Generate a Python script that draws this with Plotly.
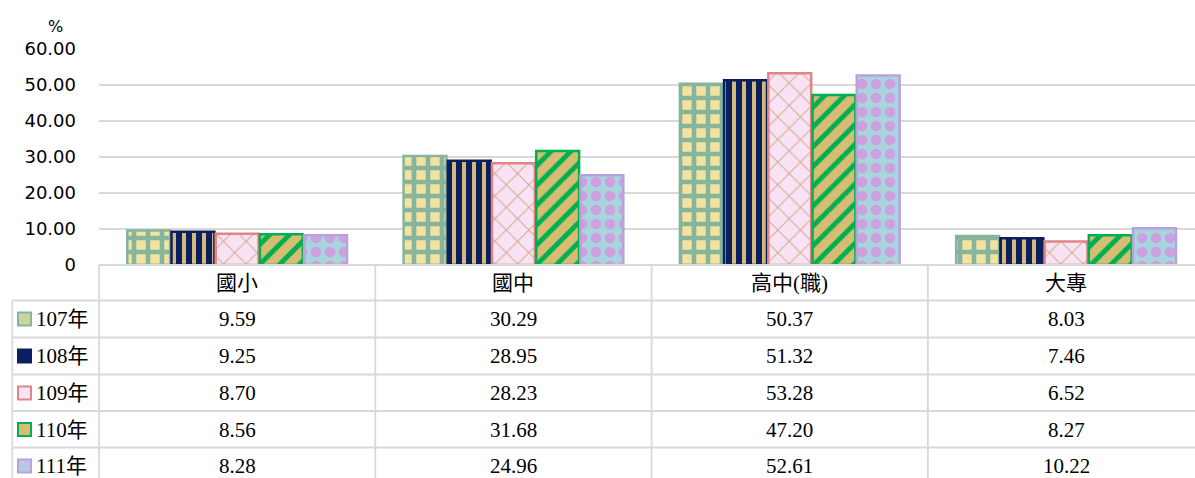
import plotly.graph_objects as go

categories = ["國小", "國中", "高中(職)", "大專"]
years = ["107年", "108年", "109年", "110年", "111年"]
v107 = [9.59, 30.29, 50.37, 8.03]
v108 = [9.25, 28.95, 51.32, 7.46]
v109 = [8.70, 28.23, 53.28, 6.52]
v110 = [8.56, 31.68, 47.20, 8.27]
v111 = [8.28, 24.96, 52.61, 10.22]
series = [v107, v108, v109, v110, v111]
y_tickvals = [0, 10, 20, 30, 40, 50, 60]
y_ticktext = ["0", "10.00", "20.00", "30.00", "40.00", "50.00", "60.00"]

# styles: (bg, fg, border, shape, solidity, size, icon fill)
styles = [
    ("#F3E3A0", "#86B49C", "#86B49C", "+", 0.55, 14, "#C9D49E"),
    ("#0B1F5E", "#D4B97A", "#0B1F5E", "|", 0.4, 10, "#0B1F5E"),
    ("#F8E3F4", "#D8A88E", "#E08585", "x", 0.12, 16, "#F8E3F4"),
    ("#D7BD74", "#00B050", "#00B050", "/", 0.35, 14, "#D7BD74"),
    ("#A8D4DC", "#CDA0E2", "#B9A2DA", ".", 0.45, 14, "#B8C8E6"),
]

W, H = 1195, 478
L, T, BP = 99, 49, 265
PW = W - L
PH = BP - T
catw = 276.3


def px_x(p):
    return (p - L) / PW


def px_y(p):
    return (BP - p) / PH


fig = go.Figure()
for name, vals, st in zip(years, series, styles):
    bg, fg, border, shp, sol, sz, icon = st
    fig.add_trace(go.Bar(
        x=categories, y=vals, name=name,
        marker=dict(
            color=bg,
            line=dict(color=border, width=2.5),
            pattern=dict(shape=shp, fillmode="replace", bgcolor=bg, fgcolor=fg,
                         solidity=sol, size=sz),
        ),
        showlegend=False,
        hoverinfo="skip",
    ))

grid = "#D9D9D9"
shapes = []
shapes.append(dict(type="line", xref="paper", yref="paper", x0=0, x1=1,
                   y0=px_y(265), y1=px_y(265), line=dict(color=grid, width=1.8)))
row_lines = [300.5, 337.5, 374.5, 411, 447.5]
for yy in row_lines:
    shapes.append(dict(type="line", xref="paper", yref="paper", x0=px_x(12), x1=1,
                       y0=px_y(yy), y1=px_y(yy), line=dict(color=grid, width=1.8)))
shapes.append(dict(type="line", xref="paper", yref="paper", x0=px_x(12.3), x1=px_x(12.3),
                   y0=px_y(300.5), y1=px_y(490), line=dict(color=grid, width=1.8)))
shapes.append(dict(type="line", xref="paper", yref="paper", x0=0, x1=0,
                   y0=px_y(265), y1=px_y(490), line=dict(color=grid, width=1.8)))
for xb in [0.5, 1.5, 2.5]:
    shapes.append(dict(type="line", xref="x", yref="paper", x0=xb, x1=xb,
                       y0=px_y(265), y1=px_y(490), line=dict(color=grid, width=1.8)))

annotations = []
tfont = dict(family="Liberation Serif, Noto Sans CJK TC", size=21, color="#000000")
for c in categories:
    annotations.append(dict(x=c, xref="x", y=px_y(283), yref="paper", text=c,
                            showarrow=False, font=tfont, xanchor="center", yanchor="middle"))
row_centers = [319, 356, 393, 429.5, 466]
for i, (name, vals, st) in enumerate(zip(years, series, styles)):
    yc = row_centers[i]
    bg, fg, border, shp, sol, sz, icon = st
    shapes.append(dict(type="rect", xref="paper", yref="paper",
                       x0=px_x(18), x1=px_x(31), y0=px_y(yc - 6.5), y1=px_y(yc + 6.5),
                       fillcolor=icon, line=dict(color=border, width=2)))
    annotations.append(dict(x=px_x(34), xref="paper", y=px_y(yc), yref="paper", text=name,
                            showarrow=False, font=tfont, xanchor="left", yanchor="middle"))
    for c, v in zip(categories, vals):
        annotations.append(dict(x=c, xref="x", y=px_y(yc), yref="paper", text=f"{v:.2f}",
                                showarrow=False, font=tfont, xanchor="center", yanchor="middle"))

annotations.append(dict(x=px_x(55), xref="paper", y=px_y(26), yref="paper", text="%",
                        showarrow=False, font=dict(family="DejaVu Sans", size=16, color="#000"),
                        xanchor="center", yanchor="middle"))

fig.update_layout(
    width=W, height=H,
    margin=dict(l=L, r=0, t=T, b=H - BP, pad=0),
    paper_bgcolor="white", plot_bgcolor="white",
    barmode="group", bargap=0.2, bargroupgap=0.03,
    xaxis=dict(range=[-0.5, -0.5 + PW / catw], showticklabels=False, showgrid=False,
               zeroline=False, showline=False, ticks=""),
    yaxis=dict(range=[0, 60], tickvals=y_tickvals, ticktext=y_ticktext,
               showgrid=True, gridcolor=grid, gridwidth=1.5, zeroline=False,
               showline=False, ticks="", ticklabelstandoff=22,
               tickfont=dict(family="DejaVu Sans", size=18, color="#000")),
    shapes=shapes, annotations=annotations,
)
fig.write_html("out.html", config={"displayModeBar": False},
               post_script="document.body.style.margin='0';document.body.style.overflow='hidden';")
